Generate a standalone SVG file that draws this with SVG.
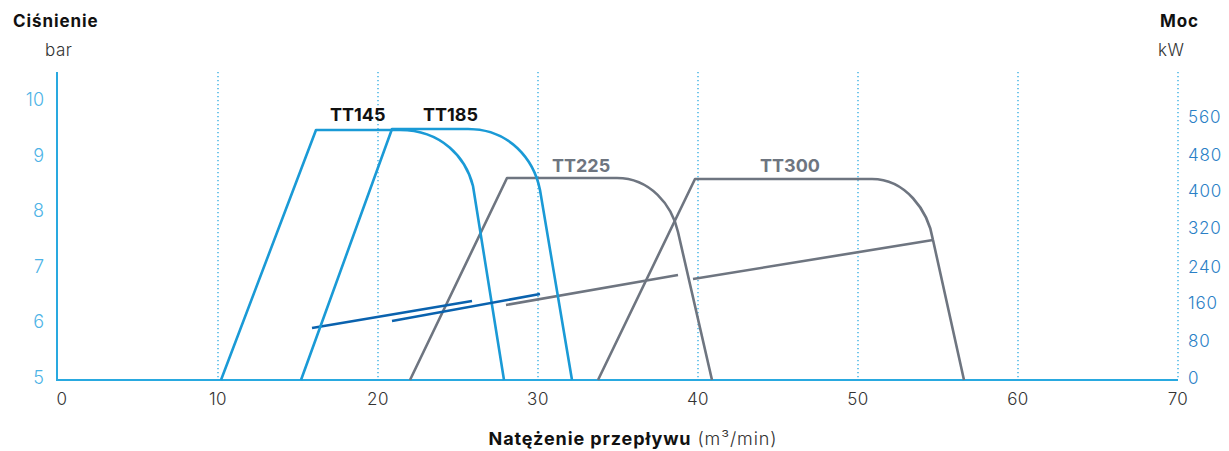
<svg xmlns="http://www.w3.org/2000/svg" width="1229" height="451" viewBox="0 0 1229 451">
<style>
.grid{stroke:#29a9e0;stroke-width:1.3;stroke-dasharray:1.3 2.7;fill:none}
.axis{stroke:#29a9e0;stroke-width:2;fill:none}
.c{fill:none;stroke-width:2.6;stroke-linejoin:round;stroke-linecap:butt}
.blue{stroke:#1a9ad6}
.gray{stroke:#6e7580}
.dblue{stroke:#0a62ae}
text{font-family:Inter,"Noto Sans","Liberation Sans",sans-serif}
.title{font-weight:700;font-size:17px;fill:#111;letter-spacing:0.9px}
.unit{font-weight:300;font-size:17px;fill:#333;letter-spacing:0.5px}
.yl{font-weight:300;font-size:18px;fill:#4db3e6;text-anchor:end}
.yr{font-weight:300;font-size:17px;fill:#2a80c6;letter-spacing:0.8px}
.xl{font-weight:300;font-size:17px;fill:#333;text-anchor:middle;letter-spacing:0.5px}
.lab{font-weight:700;font-size:18px}
</style>
<g id="grid">
<line class="grid" x1="218" y1="72" x2="218" y2="380"/>
<line class="grid" x1="378" y1="72" x2="378" y2="380"/>
<line class="grid" x1="538" y1="72" x2="538" y2="380"/>
<line class="grid" x1="698" y1="72" x2="698" y2="380"/>
<line class="grid" x1="858" y1="72" x2="858" y2="380"/>
<line class="grid" x1="1018" y1="72" x2="1018" y2="380"/>
<line class="grid" x1="1178" y1="72" x2="1178" y2="380"/>
</g>
<g id="axes">
<line class="axis" x1="57" y1="72" x2="57" y2="381"/>
<line class="axis" x1="56" y1="380" x2="1178" y2="380"/>
</g>
<g id="axis-titles">
<text class="title" x="13" y="27">Ciśnienie</text>
<text class="unit" x="45" y="56">bar</text>
<text class="title" x="1160" y="27">Moc</text>
<text class="unit" x="1158" y="56">kW</text>
<text x="633" y="445" text-anchor="middle" style="font-size:18px;fill:#111;letter-spacing:0.9px"><tspan font-weight="700">Natężenie przepływu</tspan><tspan font-weight="300" fill="#333"> (m³/min)</tspan></text>
</g>
<g id="y-left">
<text class="yl" x="44" y="106">10</text>
<text class="yl" x="44" y="162">9</text>
<text class="yl" x="44" y="217">8</text>
<text class="yl" x="44" y="273">7</text>
<text class="yl" x="44" y="328">6</text>
<text class="yl" x="44" y="384">5</text>
</g>
<g id="y-right">
<text class="yr" x="1188" y="123">560</text>
<text class="yr" x="1188" y="161">480</text>
<text class="yr" x="1188" y="197">400</text>
<text class="yr" x="1188" y="234">320</text>
<text class="yr" x="1188" y="273">240</text>
<text class="yr" x="1188" y="309">160</text>
<text class="yr" x="1188" y="347">80</text>
<text class="yr" x="1188" y="384">0</text>
</g>
<g id="x-labels">
<text class="xl" x="62" y="405">0</text>
<text class="xl" x="218" y="405">10</text>
<text class="xl" x="378" y="405">20</text>
<text class="xl" x="538" y="405">30</text>
<text class="xl" x="698" y="405">40</text>
<text class="xl" x="858" y="405">50</text>
<text class="xl" x="1018" y="405">60</text>
<text class="xl" x="1178" y="405">70</text>
</g>
<g id="connectors">
<g id="TT300">
<path class="c gray" d="M598,380 L695,179 L872,179 C905,179 928,210 933,240 L964,380"/>
<path class="c gray" d="M693,279 L933,240"/>
</g>
<g id="TT225">
<path class="c gray" d="M410,380 L507,178 L617,178 C650,178 672,205 678,232 L712,380"/>
<path class="c gray" d="M506,305 L678,275"/>
</g>
<g id="TT145">
<path class="c blue" d="M221,380 L316,130 L400,130 C442,130 466,158 473,186 L504,380"/>
<path class="c dblue" d="M312,328 L472,301"/>
</g>
<g id="TT185">
<path class="c blue" d="M301,380 L392,129 L468,129 C510,129 534,160 540,190 L572,380"/>
<path class="c dblue" d="M392,321 L540,294"/>
</g>
</g>
<g id="labels">
<text class="lab" x="330" y="121" fill="#111">TT145</text>
<text class="lab" x="423" y="121" fill="#111">TT185</text>
<text class="lab" x="552" y="172" fill="#6e7580">TT225</text>
<text class="lab" x="760" y="172" fill="#6e7580">TT300</text>
</g>
</svg>
